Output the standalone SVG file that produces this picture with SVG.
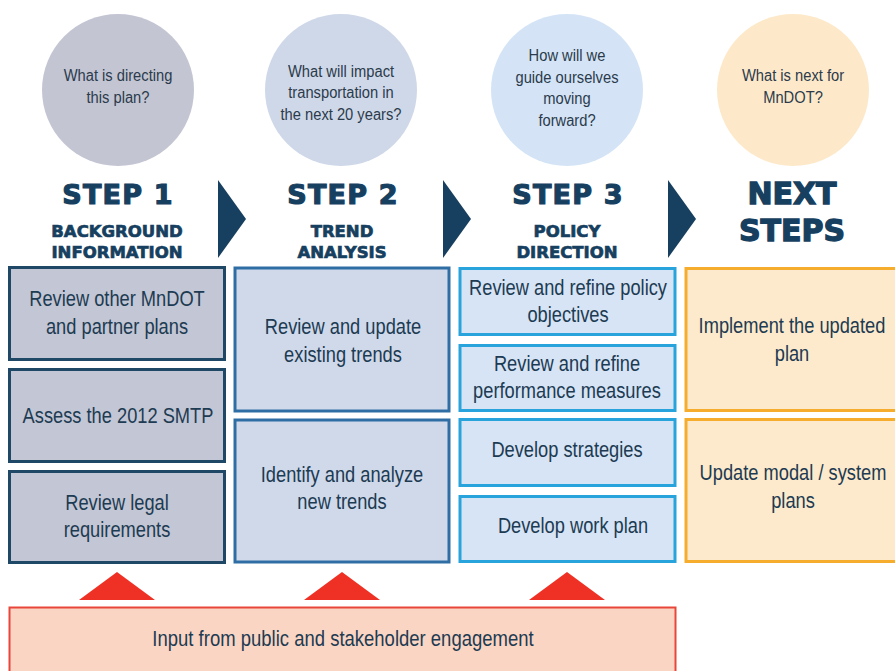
<svg xmlns="http://www.w3.org/2000/svg" width="895" height="671" viewBox="0 0 895 671">
<style>
.q{font-family:"Liberation Sans",Arial,sans-serif;font-size:16px;fill:#2b3b4c;text-anchor:middle}
.bx{font-family:"Liberation Sans",Arial,sans-serif;font-size:21.5px;fill:#1d3b52;text-anchor:middle}
.h1{font-family:"DejaVu Sans",sans-serif;font-weight:bold;font-size:27px;fill:#173f5f;stroke:#173f5f;stroke-width:1.2px;text-anchor:middle;letter-spacing:1.2px}
.h2{font-family:"DejaVu Sans",sans-serif;font-weight:bold;font-size:16.5px;fill:#173f5f;stroke:#173f5f;stroke-width:0.7px;text-anchor:middle}
.h3{font-family:"DejaVu Sans",sans-serif;font-weight:bold;font-size:30px;fill:#173f5f;stroke:#173f5f;stroke-width:1.3px;text-anchor:middle}
.c1{fill:#c3c6d4;stroke:#1e4866;stroke-width:3}
.c2{fill:#cfd9ea;stroke:#2f6ea5;stroke-width:3}
.c3{fill:#d6e4f5;stroke:#29a3dc;stroke-width:3}
.c4{fill:#fdeacc;stroke:#f6ac2c;stroke-width:3}
.chev{fill:#173f5f}
.tri{fill:#ee3124}
</style>
<rect width="895" height="671" fill="#ffffff"/>

<g id="circles">
<g id="q1"><circle cx="118" cy="90" r="76" fill="#c3c5d3"/>
<text class="q" transform="matrix(0.92 0 0 1 118 0)"><tspan x="0" y="81">What is directing</tspan><tspan x="0" y="103">this plan?</tspan></text></g>
<g id="q2"><circle cx="341" cy="90" r="76" fill="#cfd8e8"/>
<text class="q" transform="matrix(0.92 0 0 1 341 0)"><tspan x="0" y="77">What will impact</tspan><tspan x="0" y="98">transportation in</tspan><tspan x="0" y="120">the next 20 years?</tspan></text></g>
<g id="q3"><circle cx="567" cy="90" r="76" fill="#d4e4f6"/>
<text class="q" transform="matrix(0.92 0 0 1 567 0)"><tspan x="0" y="61">How will we</tspan><tspan x="0" y="83">guide ourselves</tspan><tspan x="0" y="104">moving</tspan><tspan x="0" y="126">forward?</tspan></text></g>
<g id="q4"><circle cx="793" cy="90" r="76" fill="#fde9c9"/>
<text class="q" transform="matrix(0.92 0 0 1 793 0)"><tspan x="0" y="81">What is next for</tspan><tspan x="0" y="103">MnDOT?</tspan></text></g>
</g>

<g id="headings">
<text class="h1" x="118" y="204">STEP 1</text>
<text class="h2" x="117" y="237">BACKGROUND</text>
<text class="h2" x="117" y="258">INFORMATION</text>
<text class="h1" x="343" y="204">STEP 2</text>
<text class="h2" x="342" y="237">TREND</text>
<text class="h2" x="342" y="258">ANALYSIS</text>
<text class="h1" x="568" y="204">STEP 3</text>
<text class="h2" x="567" y="237">POLICY</text>
<text class="h2" x="567" y="258">DIRECTION</text>
<text class="h3" x="792" y="204">NEXT</text>
<text class="h3" x="792" y="241">STEPS</text>
</g>

<g id="connectors">
<polygon class="chev" points="218,180 246,219 218,258"/>
<polygon class="chev" points="443,180 471,219 443,258"/>
<polygon class="chev" points="668,180 696,219 668,258"/>
<polygon class="tri" points="117,572 155,600 79,600"/>
<polygon class="tri" points="342,572 380,600 304,600"/>
<polygon class="tri" points="567,572 605,600 529,600"/>
</g>

<g id="col1">
<g id="b11"><rect class="c1" x="9.5" y="267.5" width="215" height="92"/>
<text class="bx" transform="matrix(0.85 0 0 1 117 0)"><tspan x="0" y="306">Review other MnDOT</tspan><tspan x="0" y="334">and partner plans</tspan></text></g>
<g id="b12"><rect class="c1" x="9.5" y="369.5" width="215" height="92"/>
<text class="bx" transform="matrix(0.85 0 0 1 118 0)" x="0" y="423">Assess the 2012 SMTP</text></g>
<g id="b13"><rect class="c1" x="9.5" y="471.5" width="215" height="91"/>
<text class="bx" transform="matrix(0.85 0 0 1 117 0)"><tspan x="0" y="510">Review legal</tspan><tspan x="0" y="537">requirements</tspan></text></g>
</g>

<g id="col2">
<g id="b21"><rect class="c2" x="235" y="268" width="214" height="143"/>
<text class="bx" transform="matrix(0.85 0 0 1 343 0)"><tspan x="0" y="334">Review and update</tspan><tspan x="0" y="362">existing trends</tspan></text></g>
<g id="b22"><rect class="c2" x="235" y="420" width="214" height="142"/>
<text class="bx" transform="matrix(0.85 0 0 1 342 0)"><tspan x="0" y="482">Identify and analyze</tspan><tspan x="0" y="509">new trends</tspan></text></g>
</g>

<g id="col3">
<g id="b31"><rect class="c3" x="460" y="268.5" width="215" height="66"/>
<text class="bx" transform="matrix(0.85 0 0 1 568 0)"><tspan x="0" y="295">Review and refine policy</tspan><tspan x="0" y="322">objectives</tspan></text></g>
<g id="b32"><rect class="c3" x="460" y="345.5" width="215" height="65"/>
<text class="bx" transform="matrix(0.85 0 0 1 567 0)"><tspan x="0" y="371">Review and refine</tspan><tspan x="0" y="398">performance measures</tspan></text></g>
<g id="b33"><rect class="c3" x="460" y="419.5" width="215" height="66"/>
<text class="bx" transform="matrix(0.85 0 0 1 567 0)" x="0" y="457">Develop strategies</text></g>
<g id="b34"><rect class="c3" x="460" y="496.5" width="215" height="65"/>
<text class="bx" transform="matrix(0.85 0 0 1 573 0)" x="0" y="533">Develop work plan</text></g>
</g>

<g id="col4">
<g id="b41"><rect class="c4" x="686" y="268.5" width="214" height="142"/>
<text class="bx" transform="matrix(0.85 0 0 1 792 0)"><tspan x="0" y="333">Implement the updated</tspan><tspan x="0" y="361">plan</tspan></text></g>
<g id="b42"><rect class="c4" x="686" y="419.5" width="214" height="142"/>
<text class="bx" transform="matrix(0.85 0 0 1 793 0)"><tspan x="0" y="480">Update modal / system</tspan><tspan x="0" y="508">plans</tspan></text></g>
</g>

<g id="input">
<rect x="9.5" y="607.5" width="666" height="70" fill="#fbd5c3" stroke="#e8463a" stroke-width="2"/>
<text class="bx" transform="matrix(0.86 0 0 1 343 0)" x="0" y="646">Input from public and stakeholder engagement</text>
</g>
</svg>
